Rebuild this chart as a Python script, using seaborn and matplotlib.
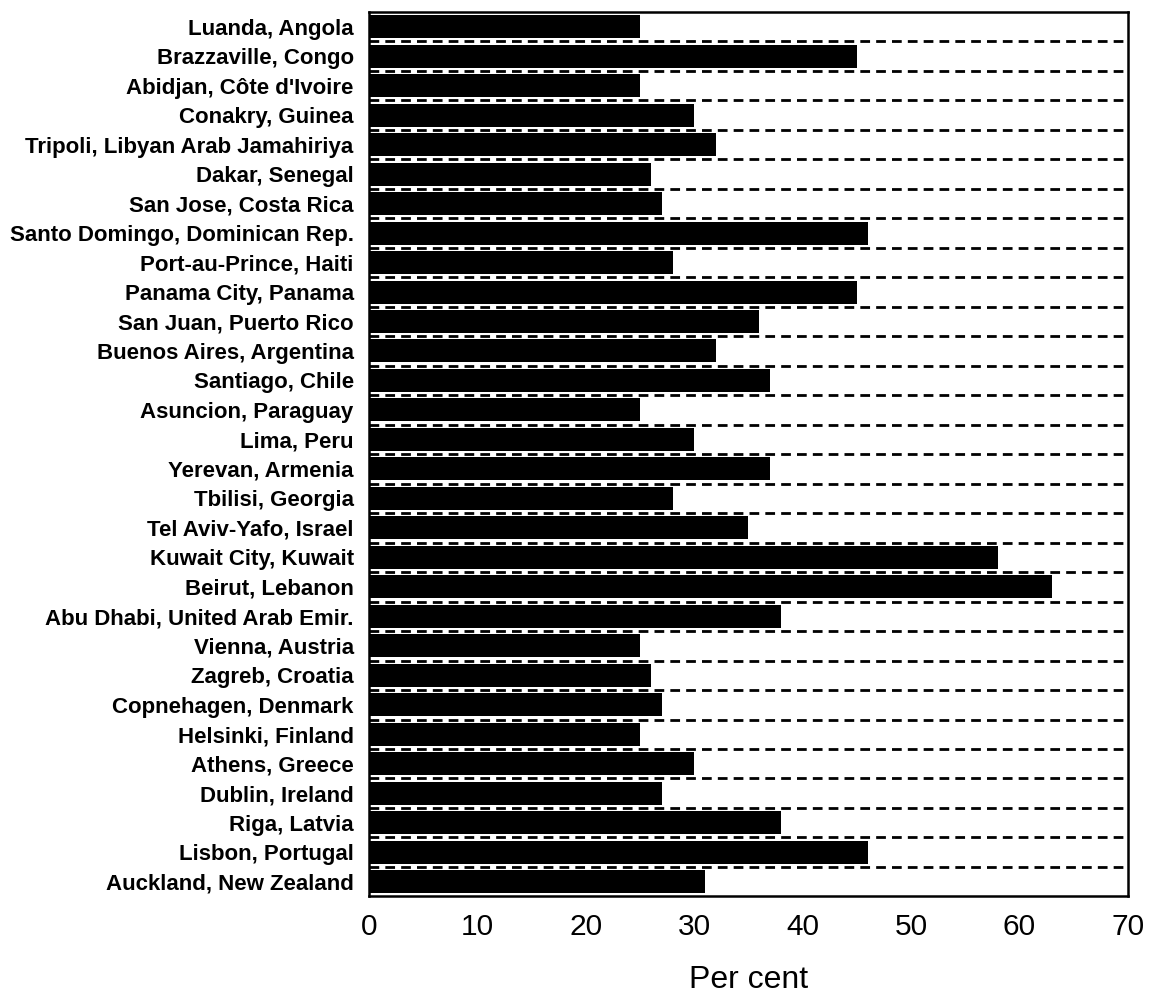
import matplotlib
import numpy as np
import pandas as pd
import seaborn as sns

matplotlib.use("Agg")
import matplotlib.pyplot as plt

cities = [
    "Luanda, Angola",
    "Brazzaville, Congo",
    "Abidjan, Côte d'Ivoire",
    "Conakry, Guinea",
    "Tripoli, Libyan Arab Jamahiriya",
    "Dakar, Senegal",
    "San Jose, Costa Rica",
    "Santo Domingo, Dominican Rep.",
    "Port-au-Prince, Haiti",
    "Panama City, Panama",
    "San Juan, Puerto Rico",
    "Buenos Aires, Argentina",
    "Santiago, Chile",
    "Asuncion, Paraguay",
    "Lima, Peru",
    "Yerevan, Armenia",
    "Tbilisi, Georgia",
    "Tel Aviv-Yafo, Israel",
    "Kuwait City, Kuwait",
    "Beirut, Lebanon",
    "Abu Dhabi, United Arab Emir.",
    "Vienna, Austria",
    "Zagreb, Croatia",
    "Copnehagen, Denmark",
    "Helsinki, Finland",
    "Athens, Greece",
    "Dublin, Ireland",
    "Riga, Latvia",
    "Lisbon, Portugal",
    "Auckland, New Zealand",
]
per_cent = [25, 45, 25, 30, 32, 26, 27, 46, 28, 45,
            36, 32, 37, 25, 30, 37, 28, 35, 58, 63,
            38, 25, 26, 27, 25, 30, 27, 38, 46, 31]
x_ticks = [0, 10, 20, 30, 40, 50, 60, 70]

df = pd.DataFrame({"city": cities, "value": per_cent})

sns.set_style("white")
plt.rcParams["font.family"] = ["Liberation Sans", "DejaVu Sans"]
plt.rcParams["text.color"] = "black"
plt.rcParams["xtick.color"] = "black"
plt.rcParams["ytick.color"] = "black"
plt.rcParams["axes.labelcolor"] = "black"

fig = plt.figure(figsize=(11.51, 9.96), dpi=100)
ax = fig.add_axes([0.3206, 0.1, 0.6594, 0.888])

sns.barplot(data=df, x="value", y="city", color="black", saturation=1,
            width=0.78, edgecolor="none", ax=ax, zorder=3)

# dashed separators between categories
for i in range(len(cities) - 1):
    ax.axhline(i + 0.5, color="black", linestyle=(0, (3.5, 2.2)), linewidth=2.0, zorder=2)

ax.set_xlim(0, 70)
ax.set_ylim(len(cities) - 0.5, -0.5)
ax.set_xticks(x_ticks)
ax.set_xticklabels([str(t) for t in x_ticks], fontsize=21.5)
ax.tick_params(axis="x", length=0, pad=12)
ax.tick_params(axis="y", length=0, pad=11)
for lab in ax.get_yticklabels():
    lab.set_fontsize(16)
    lab.set_fontweight("bold")
ax.set_ylabel("")
ax.set_xlabel("Per cent", fontsize=23)
ax.xaxis.set_label_coords(0.5, -0.077)

for side in ax.spines.values():
    side.set_visible(True)
    side.set_color("black")
    side.set_linewidth(1.8)

fig.savefig("out.png", dpi=100)
plt.close(fig)
